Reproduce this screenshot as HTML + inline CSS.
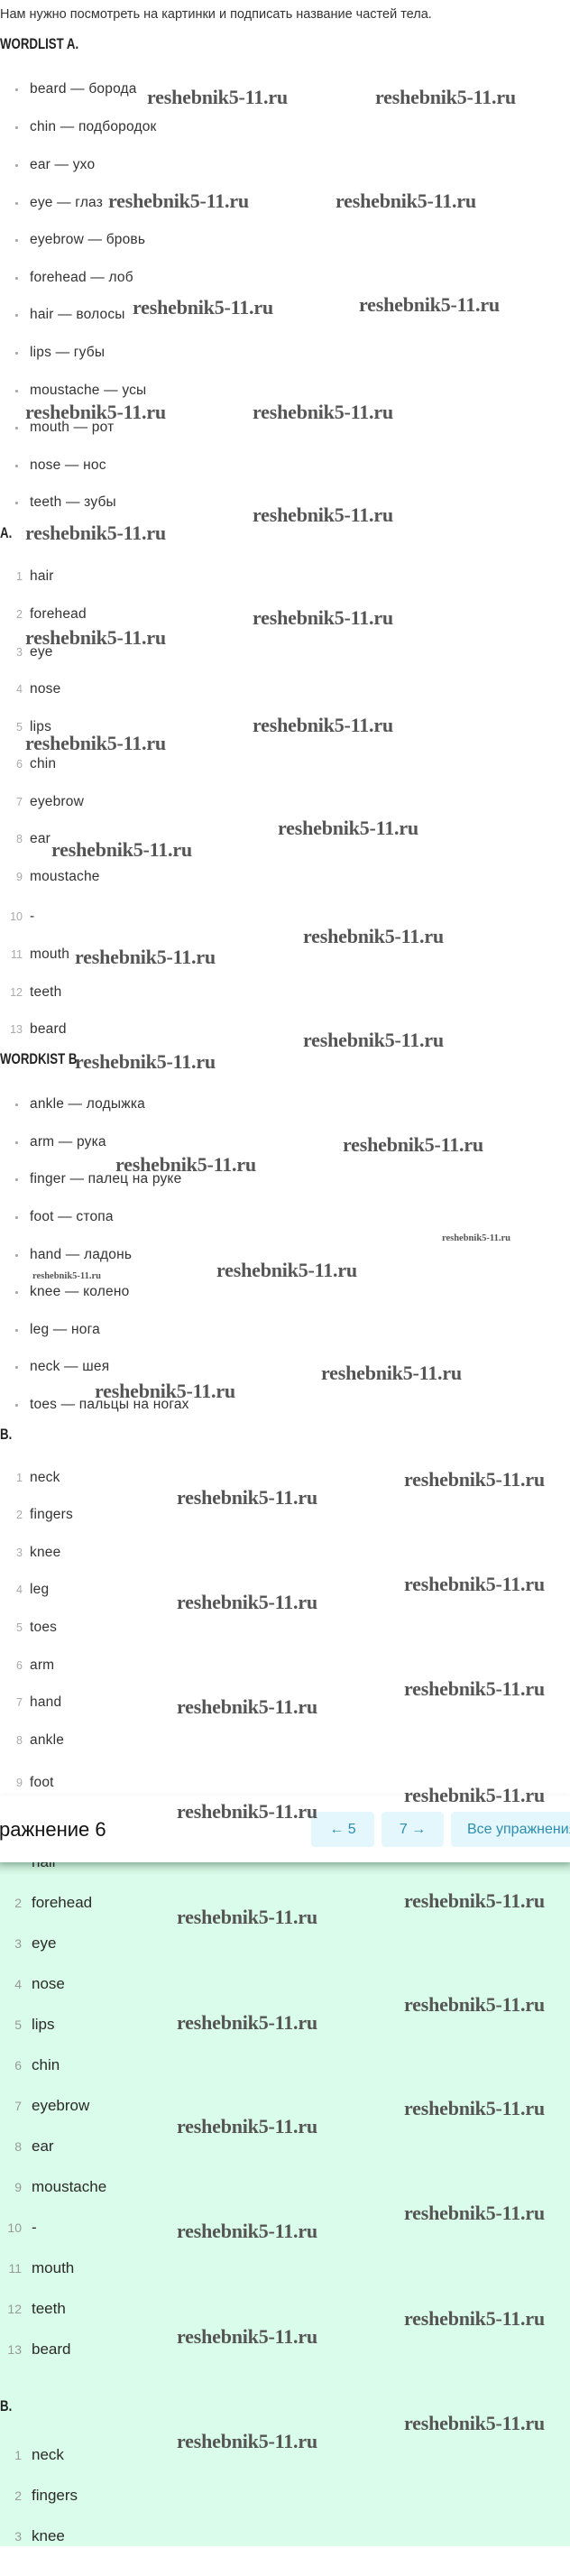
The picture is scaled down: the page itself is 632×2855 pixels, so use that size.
<!DOCTYPE html>
<html><head><meta charset="utf-8">
<style>
html,body{margin:0;padding:0;background:#fff;}
body{width:632px;height:2855px;position:relative;overflow:hidden;font-family:"Liberation Sans","DejaVu Sans",sans-serif;}
.t{position:absolute;left:33px;font-size:15.5px;line-height:20px;color:#333;white-space:nowrap;letter-spacing:0.2px;}
.b{position:absolute;left:17px;width:3px;height:3px;background:#aaa;border-radius:1px;}
.n{position:absolute;left:0;width:25px;text-align:right;font-size:12.5px;line-height:20px;color:#aaa;}
.h{position:absolute;left:0;font-weight:bold;font-size:17px;line-height:20px;color:#222;transform:scaleX(0.78);transform-origin:0 50%;white-space:nowrap;}
.w{position:absolute;font-family:"Liberation Serif",serif;font-weight:bold;font-size:22px;line-height:20px;color:#555;white-space:nowrap;letter-spacing:-0.2px;}
.ws{position:absolute;font-family:"Liberation Serif",serif;font-weight:bold;font-size:10.5px;line-height:12px;color:#555;white-space:nowrap;}
.g{position:absolute;left:0;top:2064px;width:632px;height:758px;background:#dafcea;}
.gs{position:absolute;left:0;top:2064px;width:632px;height:14px;background:linear-gradient(#b9dcc8,#dafcea);}
.gt{position:absolute;left:35px;font-size:17px;line-height:22px;color:#2a2a2a;white-space:nowrap;}
.gn{position:absolute;left:0;width:24px;text-align:right;font-size:14px;line-height:22px;color:#999;}
.btn{position:absolute;top:2008px;height:39px;background:#e3f7fc;border-radius:4px;color:#2c8db0;font-size:16px;line-height:39px;text-align:center;white-space:nowrap;overflow:hidden;}
</style></head><body>

<div class="t" style="left:0;top:6px;font-size:14.5px;color:#333;letter-spacing:0">Нам нужно посмотреть на картинки и подписать название частей тела.</div>
<div class="h" style="top:39px">WORDLIST A.</div>

<div class="b" style="top:98px"></div><div class="t" style="top:89px">beard — борода</div>
<div class="b" style="top:140px"></div><div class="t" style="top:131px">chin — подбородок</div>
<div class="b" style="top:182px"></div><div class="t" style="top:173px">ear — ухо</div>
<div class="b" style="top:224px"></div><div class="t" style="top:215px">eye — глаз</div>
<div class="b" style="top:265px"></div><div class="t" style="top:256px">eyebrow — бровь</div>
<div class="b" style="top:307px"></div><div class="t" style="top:298px">forehead — лоб</div>
<div class="b" style="top:348px"></div><div class="t" style="top:339px">hair — волосы</div>
<div class="b" style="top:390px"></div><div class="t" style="top:381px">lips — губы</div>
<div class="b" style="top:432px"></div><div class="t" style="top:423px">moustache — усы</div>
<div class="b" style="top:473px"></div><div class="t" style="top:464px">mouth — рот</div>
<div class="b" style="top:515px"></div><div class="t" style="top:506px">nose — нос</div>
<div class="b" style="top:556px"></div><div class="t" style="top:547px">teeth — зубы</div>
<div class="h" style="top:581px">A.</div>

<div class="n" style="top:629px">1</div><div class="t" style="top:629px">hair</div>
<div class="n" style="top:671px">2</div><div class="t" style="top:671px">forehead</div>
<div class="n" style="top:713px">3</div><div class="t" style="top:713px">eye</div>
<div class="n" style="top:754px">4</div><div class="t" style="top:754px">nose</div>
<div class="n" style="top:796px">5</div><div class="t" style="top:796px">lips</div>
<div class="n" style="top:837px">6</div><div class="t" style="top:837px">chin</div>
<div class="n" style="top:879px">7</div><div class="t" style="top:879px">eyebrow</div>
<div class="n" style="top:920px">8</div><div class="t" style="top:920px">ear</div>
<div class="n" style="top:962px">9</div><div class="t" style="top:962px">moustache</div>
<div class="n" style="top:1006px">10</div><div class="t" style="top:1006px">-</div>
<div class="n" style="top:1048px">11</div><div class="t" style="top:1048px">mouth</div>
<div class="n" style="top:1090px">12</div><div class="t" style="top:1090px">teeth</div>
<div class="n" style="top:1131px">13</div><div class="t" style="top:1131px">beard</div>
<div class="h" style="top:1164px">WORDKIST B</div>

<div class="b" style="top:1223px"></div><div class="t" style="top:1214px">ankle — лодыжка</div>
<div class="b" style="top:1265px"></div><div class="t" style="top:1256px">arm — рука</div>
<div class="b" style="top:1306px"></div><div class="t" style="top:1297px">finger — палец на руке</div>
<div class="b" style="top:1348px"></div><div class="t" style="top:1339px">foot — стопа</div>
<div class="b" style="top:1390px"></div><div class="t" style="top:1381px">hand — ладонь</div>
<div class="b" style="top:1431px"></div><div class="t" style="top:1422px">knee — колено</div>
<div class="b" style="top:1473px"></div><div class="t" style="top:1464px">leg — нога</div>
<div class="b" style="top:1514px"></div><div class="t" style="top:1505px">neck — шея</div>
<div class="b" style="top:1556px"></div><div class="t" style="top:1547px">toes — пальцы на ногах</div>
<div class="h" style="top:1580px">B.</div>

<div class="n" style="top:1628px">1</div><div class="t" style="top:1628px">neck</div>
<div class="n" style="top:1669px">2</div><div class="t" style="top:1669px">fingers</div>
<div class="n" style="top:1711px">3</div><div class="t" style="top:1711px">knee</div>
<div class="n" style="top:1752px">4</div><div class="t" style="top:1752px">leg</div>
<div class="n" style="top:1794px">5</div><div class="t" style="top:1794px">toes</div>
<div class="n" style="top:1836px">6</div><div class="t" style="top:1836px">arm</div>
<div class="n" style="top:1877px">7</div><div class="t" style="top:1877px">hand</div>
<div class="n" style="top:1919px">8</div><div class="t" style="top:1919px">ankle</div>
<div class="n" style="top:1966px">9</div><div class="t" style="top:1966px">foot</div>

<!-- green section -->
<div class="g"></div>
<div class="gs"></div>
<div class="gt" style="top:2053px">hair</div>
<div class="gn" style="top:2098px">2</div><div class="gt" style="top:2098px">forehead</div>
<div class="gn" style="top:2143px">3</div><div class="gt" style="top:2143px">eye</div>
<div class="gn" style="top:2188px">4</div><div class="gt" style="top:2188px">nose</div>
<div class="gn" style="top:2233px">5</div><div class="gt" style="top:2233px">lips</div>
<div class="gn" style="top:2278px">6</div><div class="gt" style="top:2278px">chin</div>
<div class="gn" style="top:2323px">7</div><div class="gt" style="top:2323px">eyebrow</div>
<div class="gn" style="top:2368px">8</div><div class="gt" style="top:2368px">ear</div>
<div class="gn" style="top:2413px">9</div><div class="gt" style="top:2413px">moustache</div>
<div class="gn" style="top:2458px">10</div><div class="gt" style="top:2458px">-</div>
<div class="gn" style="top:2503px">11</div><div class="gt" style="top:2503px">mouth</div>
<div class="gn" style="top:2548px">12</div><div class="gt" style="top:2548px">teeth</div>
<div class="gn" style="top:2593px">13</div><div class="gt" style="top:2593px">beard</div>
<div class="h" style="top:2657px">B.</div>
<div class="gn" style="top:2710px">1</div><div class="gt" style="top:2710px">neck</div>
<div class="gn" style="top:2755px">2</div><div class="gt" style="top:2755px">fingers</div>
<div class="gn" style="top:2800px">3</div><div class="gt" style="top:2800px">knee</div>
<div style="position:absolute;left:0;top:2822px;width:632px;height:33px;background:#fff"></div>

<!-- header bar -->
<div style="position:absolute;left:0;top:1990px;width:632px;height:74px;background:#fff;box-shadow:0 3px 6px rgba(0,60,30,0.25)"></div>
<div style="position:absolute;left:-1px;top:2015px;font-size:22px;line-height:26px;color:#111;white-space:nowrap">ражнение 6</div>
<div class="btn" style="left:345px;width:70px">← 5</div>
<div class="btn" style="left:423px;width:69px">7 →</div>
<div class="btn" style="left:500px;width:140px;text-align:left;padding-left:18px">Все упражнения</div>

<!-- watermarks white section -->
<div class="w" style="left:163px;top:98px">reshebnik5-11.ru</div>
<div class="w" style="left:416px;top:98px">reshebnik5-11.ru</div>
<div class="w" style="left:120px;top:213px">reshebnik5-11.ru</div>
<div class="w" style="left:372px;top:213px">reshebnik5-11.ru</div>
<div class="w" style="left:147px;top:331px">reshebnik5-11.ru</div>
<div class="w" style="left:398px;top:328px">reshebnik5-11.ru</div>
<div class="w" style="left:28px;top:447px">reshebnik5-11.ru</div>
<div class="w" style="left:280px;top:447px">reshebnik5-11.ru</div>
<div class="w" style="left:280px;top:561px">reshebnik5-11.ru</div>
<div class="w" style="left:28px;top:581px">reshebnik5-11.ru</div>
<div class="w" style="left:280px;top:675px">reshebnik5-11.ru</div>
<div class="w" style="left:28px;top:697px">reshebnik5-11.ru</div>
<div class="w" style="left:280px;top:794px">reshebnik5-11.ru</div>
<div class="w" style="left:28px;top:814px">reshebnik5-11.ru</div>
<div class="w" style="left:308px;top:908px">reshebnik5-11.ru</div>
<div class="w" style="left:57px;top:932px">reshebnik5-11.ru</div>
<div class="w" style="left:336px;top:1028px">reshebnik5-11.ru</div>
<div class="w" style="left:83px;top:1051px">reshebnik5-11.ru</div>
<div class="w" style="left:336px;top:1143px">reshebnik5-11.ru</div>
<div class="w" style="left:83px;top:1167px">reshebnik5-11.ru</div>
<div class="w" style="left:380px;top:1259px">reshebnik5-11.ru</div>
<div class="w" style="left:128px;top:1281px">reshebnik5-11.ru</div>
<div class="ws" style="left:490px;top:1367px">reshebnik5-11.ru</div>
<div class="w" style="left:240px;top:1398px">reshebnik5-11.ru</div>
<div class="ws" style="left:36px;top:1409px">reshebnik5-11.ru</div>
<div class="w" style="left:356px;top:1512px">reshebnik5-11.ru</div>
<div class="w" style="left:105px;top:1532px">reshebnik5-11.ru</div>
<div class="w" style="left:448px;top:1630px">reshebnik5-11.ru</div>
<div class="w" style="left:196px;top:1650px">reshebnik5-11.ru</div>
<div class="w" style="left:448px;top:1746px">reshebnik5-11.ru</div>
<div class="w" style="left:196px;top:1766px">reshebnik5-11.ru</div>
<div class="w" style="left:448px;top:1862px">reshebnik5-11.ru</div>
<div class="w" style="left:196px;top:1882px">reshebnik5-11.ru</div>
<div class="w" style="left:448px;top:1980px">reshebnik5-11.ru</div>
<div class="w" style="left:196px;top:1998px">reshebnik5-11.ru</div>
<!-- watermarks green -->
<div class="w" style="left:448px;top:2097px">reshebnik5-11.ru</div>
<div class="w" style="left:196px;top:2115px">reshebnik5-11.ru</div>
<div class="w" style="left:448px;top:2212px">reshebnik5-11.ru</div>
<div class="w" style="left:196px;top:2232px">reshebnik5-11.ru</div>
<div class="w" style="left:448px;top:2327px">reshebnik5-11.ru</div>
<div class="w" style="left:196px;top:2347px">reshebnik5-11.ru</div>
<div class="w" style="left:448px;top:2443px">reshebnik5-11.ru</div>
<div class="w" style="left:196px;top:2463px">reshebnik5-11.ru</div>
<div class="w" style="left:448px;top:2560px">reshebnik5-11.ru</div>
<div class="w" style="left:196px;top:2580px">reshebnik5-11.ru</div>
<div class="w" style="left:448px;top:2676px">reshebnik5-11.ru</div>
<div class="w" style="left:196px;top:2696px">reshebnik5-11.ru</div>
</body></html>
